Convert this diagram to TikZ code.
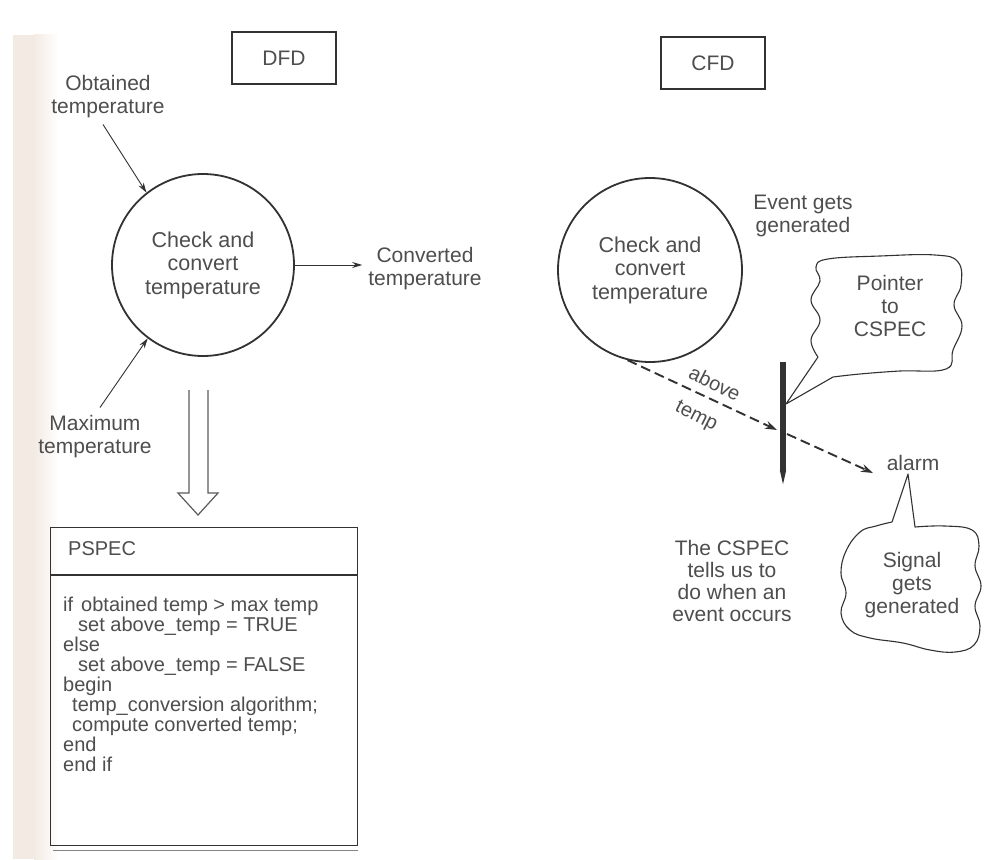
\documentclass[tikz,border=0pt]{standalone}
\usepackage{fontspec}
\setmainfont{Liberation Sans}
\usetikzlibrary{arrows.meta,calc}
\definecolor{ink}{RGB}{50,50,50}
\definecolor{txt}{RGB}{78,78,78}
\definecolor{paper}{RGB}{243,234,227}

\begin{document}
\begin{tikzpicture}[x=1pt,y=-1pt,
  lbl/.style={text=txt, align=center, inner sep=0pt, font=\fontsize{21}{23}\selectfont},
  proc/.style={circle, draw=ink, line width=1.8pt, inner sep=0pt, text=txt, align=center,
               font=\fontsize{21.5}{23.5}\selectfont},
  tag/.style={draw=ink, line width=1.8pt, minimum width=104pt, minimum height=52pt,
              inner sep=0pt, text=txt, font=\fontsize{21}{24}\selectfont},
  flow/.style={draw=ink, line width=0.9pt, -{Stealth[length=10pt,width=6pt]}},
  ctrl/.style={draw=ink, line width=1.9pt, dash pattern=on 10pt off 5pt,
               -{Stealth[length=12pt,width=8pt]}},
  cloudline/.style={draw=ink, line width=1.1pt, line join=round},
  hollow/.style={draw=ink!80, line width=1.2pt, line join=miter},
]
% page and tinted paper edge
\useasboundingbox (0,0) rectangle (984,859);
\fill[white] (0,0) rectangle (984,859);
\fill[paper] (13,35) rectangle (34,859);
\shade[left color=paper, right color=white] (34,35) rectangle (58,859);

% ---------------- DFD ----------------
\node[tag] (dfd) at (284,58) {DFD};
\node[proc, minimum size=182pt] (lc) at (203,265) {Check and\\convert\\temperature};
\node[lbl] (obt) at (108,97) {Obtained\\temperature};
\node[lbl] (conv) at (425,269) {Converted\\temperature};
\node[lbl] (maxt) at (95,437) {Maximum\\temperature};

\draw[flow] ($(obt.south)+(-5,6)$) -- (lc.128);
\draw[flow] ($(maxt.north)+(5,-8)$) -- (lc.-127);
\draw[flow] (lc.east) -- ($(lc.east -| conv.west)+(-6,0)$);

% refinement arrow down to the process specification
\draw[hollow] (189,390) -- (189,493) -- (178,493) -- (198,515) -- (218,493) -- (208,493) -- (208,390);

% ---------------- PSPEC ----------------
\node[draw=ink, line width=1.1pt, minimum width=307pt, minimum height=318pt,
      anchor=north west, inner sep=0pt] (pspec) at (50,527) {};
\draw[ink, line width=1.1pt] ($(pspec.north west)+(0,48)$) -- ($(pspec.north east)+(0,48)$);
\draw[ink!60, line width=1pt] ($(pspec.south west)+(3,4)$) -- ($(pspec.south east)+(0,4)$);
\node[lbl, anchor=west, font=\fontsize{20}{23}\selectfont] (ptitle) at (68,549) {PSPEC};
\node[text=txt, align=left, anchor=north west, inner sep=0pt,
      font=\fontsize{20}{20}\selectfont] (pcode) at (63,597)
  {\makebox[18pt][l]{if}obtained temp > max temp\\
   \hspace*{15pt}set above\_temp = TRUE\\
   else\\
   \hspace*{15pt}set above\_temp = FALSE\\
   begin\\
   \hspace*{9pt}temp\_conversion algorithm;\\
   \hspace*{9pt}compute converted temp;\\
   end\\
   end if};

% ---------------- CFD ----------------
\node[tag] (cfd) at (713,63) {CFD};
\node[proc, minimum size=184pt] (rc) at (650,270) {Check and\\convert\\temperature};
\node[lbl] (event) at (803,216) {Event gets\\generated};

% control bar
\node[fill=ink, minimum width=6pt, minimum height=108pt, inner sep=0pt] (bar) at (783,416) {};
\fill[ink] (bar.south west) -- (bar.south east) -- ($(bar.south)+(0,14)$) -- cycle;

\coordinate (hitA) at (777,430);
\coordinate (hitB) at (787,434);
\node[lbl] (alarm) at (913,463) {alarm};
\coordinate (alarmIn) at (873,473);
\draw[ctrl] (rc.-104) -- (hitA);
\draw[ctrl] (hitB) -- (alarmIn);
\node[lbl, rotate=-27, font=\fontsize{20}{23}\selectfont] (abv) at (715,383) {above};
\node[lbl, rotate=-27, font=\fontsize{20}{23}\selectfont] (tmp) at (696,417) {temp};

% callout: pointer to CSPEC
\coordinate (tipA) at (786,404);
\draw[cloudline, fill=white] (833,377) -- (tipA) -- (818,357)
  -- plot[smooth, tension=0.7] coordinates {(818,357) (811,340) (820,320) (811,300) (820,281)
     (816,267) (828,259) (880,256) (935,255) (958,262) (961,285) (954,305) (962,326)
     (953,350) (946,369) (900,371) (860,374) (833,377)};
\node[lbl] (ptr) at (890,306) {Pointer\\to\\CSPEC};

% callout: signal gets generated
\coordinate (tipB) at (908,474);
\draw[cloudline, fill=white] (892,522) -- (tipB) -- (915,527)
  -- plot[smooth, tension=0.7] coordinates {(915,527) (945,526) (972,530) (979,546) (975,566)
     (981,586) (975,606) (980,626) (974,645) (955,652) (930,650) (903,643) (870,638)
     (850,630) (841,613) (846,593) (841,573) (846,551) (860,532) (876,526) (892,522)};
\node[lbl] (sig) at (912,585) {Signal\\gets\\generated};

\node[lbl, font=\fontsize{21}{21.8}\selectfont] (note) at (732,581)
  {The CSPEC\\tells us to\\do when an\\event occurs};
\end{tikzpicture}
\end{document}
